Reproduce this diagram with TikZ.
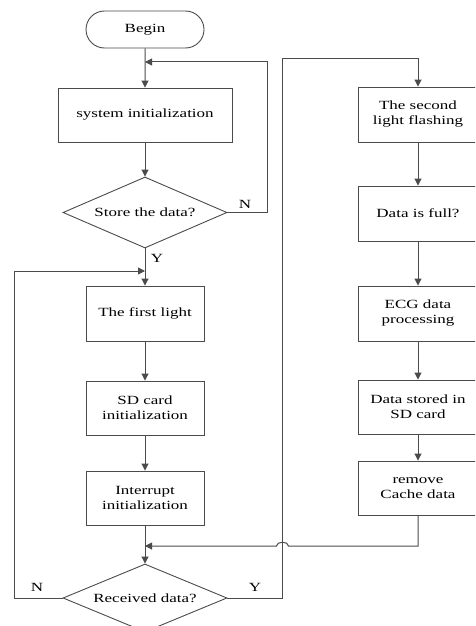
\documentclass[tikz,border=0pt]{standalone}
\usepackage{fontspec}
\setmainfont[FakeStretch=1.36]{Liberation Serif}
\usetikzlibrary{arrows.meta,shapes.geometric,shapes.misc}
\definecolor{linec}{RGB}{75,75,75}
\begin{document}
\begin{tikzpicture}[x=1pt,y=-1pt,
  every node/.style={font=\fontsize{12.5}{15}\selectfont, text=black},
  proc/.style={draw=linec, line width=0.9pt, rectangle, inner sep=0pt,
    minimum width=118pt, minimum height=54pt, align=center},
  rproc/.style={proc, minimum width=120pt},
  term/.style={draw=linec, line width=0.9pt, rounded rectangle, inner sep=0pt,
    minimum width=118pt, minimum height=37pt},
  decide/.style={draw=linec, line width=0.9pt, diamond, aspect=2.3, inner sep=0pt,
    minimum width=164pt, minimum height=71pt},
  flow/.style={draw=linec, line width=1pt, -{Triangle[length=7pt,width=7pt]}},
  lbl/.style={inner sep=0pt}
]
\useasboundingbox (0,0) rectangle (475,626);
\clip (0,0) rectangle (475,626);

% left column
\node[term] (begin) at (145,29.5) {Begin};
\node[proc, minimum width=174pt] (sysinit) at (145,115) {system initialization};
\node[decide] (store) at (145,212.5) {Store the data?};
\node[proc, minimum height=55pt] (first) at (145,313.5) {The first light};
\node[proc] (sd) at (145,408) {SD card\\initialization};
\node[proc] (intr) at (145,498) {Interrupt\\initialization};
\node[decide, minimum height=68pt] (recv) at (145,598) {Received data?};

% right column
\node[rproc, minimum height=55pt] (second) at (418,114.5) {The second\\light flashing};
\node[rproc, minimum height=55pt] (full) at (418,213.5) {Data is full?};
\node[rproc, minimum height=55pt] (ecg) at (418,313.5) {ECG data\\processing};
\node[rproc] (stored) at (418,407) {Data stored in\\SD card};
\node[rproc] (remove) at (418,488) {remove\\Cache data};

% junction points and bends
\coordinate (j1) at (145,62);
\coordinate (j2) at (145,271);
\coordinate (j3) at (145,546);
\coordinate (nloop) at (267,62);
\coordinate (lloop) at (14,271);
\coordinate (yloop) at (282.5,59);
\coordinate (rtop) at (418,59);
\coordinate (rbot) at (418,546);

% main flow
\draw[flow] (begin) -- (sysinit);
\draw[flow] (sysinit) -- (store);
\draw[flow] (store) -- (first);
\draw[flow] (first) -- (sd);
\draw[flow] (sd) -- (intr);
\draw[flow] (intr) -- (recv);
\draw[flow] (second) -- (full);
\draw[flow] (full) -- (ecg);
\draw[flow] (ecg) -- (stored);
\draw[flow] (stored) -- (remove);

% "N" from Store the data? back above system initialization
\draw[flow] (store.east) -- (store.east -| nloop) -- (nloop) -- (j1);
% "N" from Received data? back above The first light
\draw[flow] (recv.west) -- (recv.west -| lloop) -- (lloop) -- (j2);
% "Y" from Received data? over to the second column
\draw[flow] (recv.east) -- (recv.east -| yloop) -- (yloop) -- (rtop) -- (second);
% return from remove Cache data, hopping over the vertical line
\draw[flow] (remove) -- (rbot) -- (288.5,546)
  .. controls (288.5,541) and (276.5,541) .. (276.5,546) -- (j3);

% branch labels
\node[lbl] (n1) at (245,204) {N};
\node[lbl] (y1) at (157,258) {Y};
\node[lbl] (n2) at (37,587) {N};
\node[lbl] (y2) at (255,587) {Y};
\end{tikzpicture}
\end{document}
